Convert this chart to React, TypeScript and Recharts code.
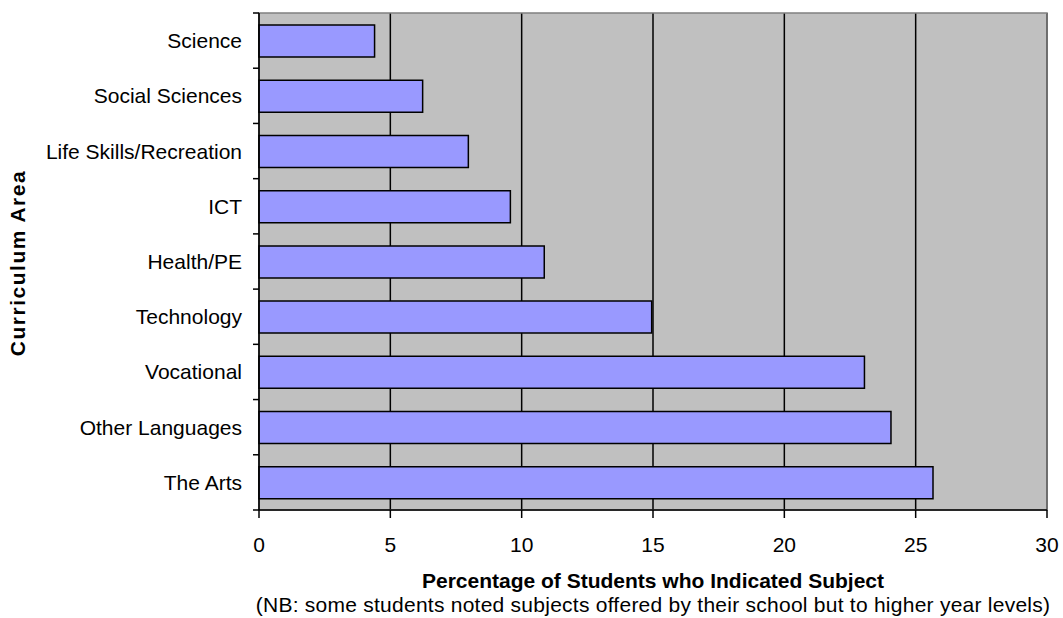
import { Bar, BarChart, CartesianGrid, ReferenceArea, XAxis, YAxis } from "recharts";

const areas = [
  "Science",
  "Social Sciences",
  "Life Skills/Recreation",
  "ICT",
  "Health/PE",
  "Technology",
  "Vocational",
  "Other Languages",
  "The Arts",
];
const percents = [4.4, 6.23, 7.97, 9.57, 10.86, 14.95, 23.05, 24.06, 25.66];
const xTicks = [0, 5, 10, 15, 20, 25, 30];

const data = areas.map((area, i) => ({ area, pct: percents[i] }));

const W = 1063;
const H = 618;
const MARGIN = { top: 13, right: 16, bottom: 78, left: 0 };
const AXIS_W = 259;
const BAND = (H - MARGIN.top - MARGIN.bottom - 30) / areas.length;
const FONT = "'Liberation Sans', Arial, sans-serif";

function AreaTick(props: any) {
  const { y, payload, index } = props;
  const last = index === areas.length - 1;
  return (
    <g>
      <text x={242} y={y} textAnchor="end" dominantBaseline="central" fontSize={21} fill="#000" fontFamily={FONT}>
        {payload.value}
      </text>
      <line x1={AXIS_W - 6} x2={AXIS_W} y1={y - BAND / 2} y2={y - BAND / 2} stroke="#000" strokeWidth={1.5} />
      {last && <line x1={AXIS_W - 6} x2={AXIS_W} y1={y + BAND / 2} y2={y + BAND / 2} stroke="#000" strokeWidth={1.5} />}
    </g>
  );
}

export default function App() {
  return (
    <div style={{ position: "absolute", left: 0, top: 0, width: W, height: H, background: "#fff", fontFamily: FONT }}>
      <BarChart width={W} height={H} data={data} layout="vertical" margin={MARGIN}>
        <CartesianGrid horizontal={false} fill="#c0c0c0" stroke="#000" strokeWidth={1.5} />
        <ReferenceArea x1={0} x2={30} fill="none" stroke="#808080" strokeWidth={1.5} ifOverflow="visible" />
        <XAxis
          type="number"
          domain={[0, 30]}
          ticks={xTicks}
          interval={0}
          axisLine={{ stroke: "#000", strokeWidth: 1.5 }}
          tickLine={{ stroke: "#000", strokeWidth: 1.5 }}
          tickSize={8}
          tick={{ fontSize: 21, fill: "#000", fontFamily: FONT, dy: 17 }}
        />
        <YAxis
          type="category"
          dataKey="area"
          width={AXIS_W}
          interval={0}
          axisLine={{ stroke: "#000", strokeWidth: 1.5 }}
          tickLine={false}
          tick={<AreaTick />}
        />
        <Bar dataKey="pct" fill="#9999ff" stroke="#000" strokeWidth={1.5} barSize={32} isAnimationActive={false} />
      </BarChart>
      <div
        style={{
          position: "absolute",
          left: AXIS_W - 60,
          width: W - AXIS_W - MARGIN.right + 120,
          top: 569,
          textAlign: "center",
          fontSize: 21,
          fontWeight: "bold",
          lineHeight: "24px",
        }}
      >
        Percentage of Students who Indicated Subject
      </div>
      <div
        style={{
          position: "absolute",
          left: AXIS_W - 80,
          width: W - AXIS_W - MARGIN.right + 160,
          top: 593,
          textAlign: "center",
          fontSize: 21,
          letterSpacing: 0.25,
          lineHeight: "24px",
          whiteSpace: "nowrap",
        }}
      >
        (NB: some students noted subjects offered by their school but to higher year levels)
      </div>
      <div
        style={{
          position: "absolute",
          left: 18,
          top: 263,
          transform: "translate(-50%, -50%) rotate(-90deg)",
          whiteSpace: "nowrap",
          fontSize: 21,
          letterSpacing: 1.5,
          fontWeight: "bold",
        }}
      >
        Curriculum Area
      </div>
    </div>
  );
}
